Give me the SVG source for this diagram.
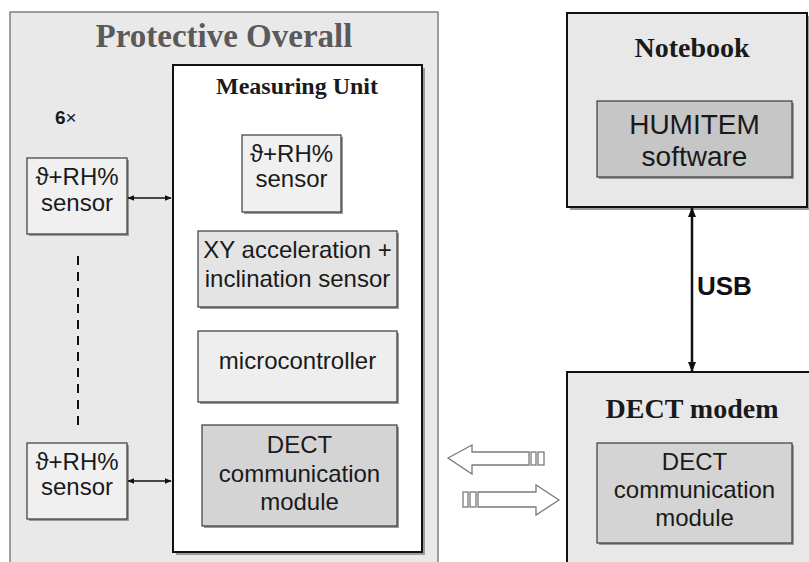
<svg xmlns="http://www.w3.org/2000/svg" width="809" height="562" viewBox="0 0 809 562">
  <style>
    .serif { font-family: "Liberation Serif", "Times New Roman", serif; font-weight: bold; }
    .sans { font-family: "Liberation Sans", Arial, "DejaVu Sans", sans-serif; font-size: 24px; fill: #1a1a1a; }
    .big { font-size: 28px; }
    .usb { font-size: 26px; font-weight: bold; fill: #111; }
    .count { font-size: 19px; }
    .shadow { fill: #9a9a9a; }
    .box { stroke: #3a3a3a; stroke-width: 1.2; }
    .frame { stroke: #111; stroke-width: 2; }
    .link { stroke: #111; fill: none; }
    .hollow { fill: #ffffff; stroke: #7a7a7a; stroke-width: 1.3; }
  </style>
  <defs>
    <marker id="tip" viewBox="0 0 10 10" refX="9" refY="5" markerWidth="7" markerHeight="7" orient="auto-start-reverse" markerUnits="userSpaceOnUse">
      <path d="M0,1 L10,5 L0,9 z" fill="#111"/>
    </marker>
    <marker id="tipBig" viewBox="0 0 10 10" refX="9" refY="5" markerWidth="10" markerHeight="10" orient="auto-start-reverse" markerUnits="userSpaceOnUse">
      <path d="M0,1 L10,5 L0,9 z" fill="#111"/>
    </marker>
  </defs>

  <rect width="809" height="562" fill="#ffffff"/>

  <!-- Protective overall enclosure -->
  <g id="protective-overall">
    <rect x="10" y="12" width="428" height="580" fill="#e9e9e9" stroke="#808080" stroke-width="1.5"/>
    <text class="serif" x="224" y="47" font-size="33" text-anchor="middle" fill="#5a5a5a">Protective Overall</text>
    <text class="sans count" x="55" y="124"><tspan font-weight="bold">6</tspan>×</text>
  </g>

  <!-- Measuring unit -->
  <g id="measuring-unit">
    <rect class="shadow" x="176" y="68" width="249" height="487"/>
    <rect class="frame" x="173" y="65" width="249" height="487" fill="#ffffff"/>
    <text class="serif" x="297" y="94" font-size="24" text-anchor="middle" fill="#1a1a1a">Measuring Unit</text>
  </g>

  <g id="mu-sensor">
    <rect class="shadow" x="244" y="137" width="99" height="77"/>
    <rect class="box" x="242" y="135" width="99" height="77" fill="#f0f0f0"/>
    <text class="sans" x="291.5" y="162" text-anchor="middle">ϑ+RH%</text>
    <text class="sans" x="291.5" y="187" text-anchor="middle">sensor</text>
  </g>

  <g id="accel-sensor">
    <rect class="shadow" x="200" y="233" width="199" height="76"/>
    <rect class="box" x="198" y="231" width="199" height="76" fill="#e4e4e4"/>
    <text class="sans" x="297.5" y="258" text-anchor="middle">XY acceleration +</text>
    <text class="sans" x="297.5" y="287" text-anchor="middle">inclination sensor</text>
  </g>

  <g id="microcontroller">
    <rect class="shadow" x="200" y="333" width="199" height="71"/>
    <rect class="box" x="198" y="331" width="199" height="71" fill="#eeeeee"/>
    <text class="sans" x="297.5" y="369" text-anchor="middle">microcontroller</text>
  </g>

  <g id="mu-dect">
    <rect class="shadow" x="204" y="427" width="195" height="101"/>
    <rect class="box" x="202" y="425" width="195" height="101" fill="#d4d4d4"/>
    <text class="sans" x="299.5" y="453" text-anchor="middle">DECT</text>
    <text class="sans" x="299.5" y="482" text-anchor="middle">communication</text>
    <text class="sans" x="299.5" y="510" text-anchor="middle">module</text>
  </g>

  <!-- External sensors -->
  <g id="ext-sensor-1">
    <rect class="shadow" x="29" y="160" width="100" height="76"/>
    <rect class="box" x="27" y="158" width="100" height="76" fill="#f0f0f0"/>
    <text class="sans" x="77" y="185" text-anchor="middle">ϑ+RH%</text>
    <text class="sans" x="77" y="211" text-anchor="middle">sensor</text>
  </g>

  <g id="ext-sensor-6">
    <rect class="shadow" x="29" y="445" width="100" height="76"/>
    <rect class="box" x="27" y="443" width="100" height="76" fill="#f0f0f0"/>
    <text class="sans" x="77" y="470" text-anchor="middle">ϑ+RH%</text>
    <text class="sans" x="77" y="495" text-anchor="middle">sensor</text>
  </g>

  <!-- Notebook -->
  <g id="notebook">
    <rect class="shadow" x="570" y="16" width="240" height="194"/>
    <rect class="frame" x="567" y="13" width="240" height="194" fill="#e8e8e8" stroke-width="1.5"/>
    <text class="serif" x="692" y="57" font-size="28" text-anchor="middle" fill="#1a1a1a">Notebook</text>
  </g>

  <g id="humitem">
    <rect class="shadow" x="599" y="103" width="195" height="76"/>
    <rect class="box" x="597" y="101" width="195" height="76" fill="#c6c6c6"/>
    <text class="sans big" x="694.5" y="134" text-anchor="middle">HUMITEM</text>
    <text class="sans big" x="694.5" y="166" text-anchor="middle">software</text>
  </g>

  <!-- DECT modem -->
  <g id="dect-modem">
    <rect class="frame" x="567" y="372" width="250" height="220" fill="#e8e8e8" stroke-width="1.5"/>
    <text class="serif" x="692" y="418" font-size="28" text-anchor="middle" fill="#1a1a1a">DECT modem</text>
  </g>

  <g id="modem-dect">
    <rect class="shadow" x="599" y="445" width="195" height="100"/>
    <rect class="box" x="597" y="443" width="195" height="100" fill="#d4d4d4"/>
    <text class="sans" x="694.5" y="470" text-anchor="middle">DECT</text>
    <text class="sans" x="694.5" y="498" text-anchor="middle">communication</text>
    <text class="sans" x="694.5" y="526" text-anchor="middle">module</text>
  </g>

  <!-- Connectors -->
  <g id="connectors">
    <line class="link" x1="128" y1="198" x2="171" y2="198" stroke-width="1.3" marker-start="url(#tip)" marker-end="url(#tip)"/>
    <line class="link" x1="128" y1="481" x2="171" y2="481" stroke-width="1.3" marker-start="url(#tip)" marker-end="url(#tip)"/>
    <line class="link" x1="78" y1="256" x2="78" y2="428" stroke-width="2" stroke-dasharray="9,7"/>
    <line class="link" x1="692" y1="208" x2="692" y2="371" stroke-width="2.5" marker-start="url(#tipBig)" marker-end="url(#tipBig)"/>
    <text class="sans usb" x="697" y="295">USB</text>

    <!-- radio link: modem to unit -->
    <polygon class="hollow" points="448,458 472,445 472,452 529,452 529,465 472,465 472,474"/>
    <rect class="hollow" x="531" y="452" width="5" height="13"/>
    <rect class="hollow" x="538" y="452" width="6" height="13"/>
    <!-- radio link: unit to modem -->
    <polygon class="hollow" points="559,500 536,485 536,492 478,492 478,507 536,507 536,515"/>
    <rect class="hollow" x="463" y="492" width="5" height="15"/>
    <rect class="hollow" x="470" y="492" width="6" height="15"/>
  </g>
</svg>
